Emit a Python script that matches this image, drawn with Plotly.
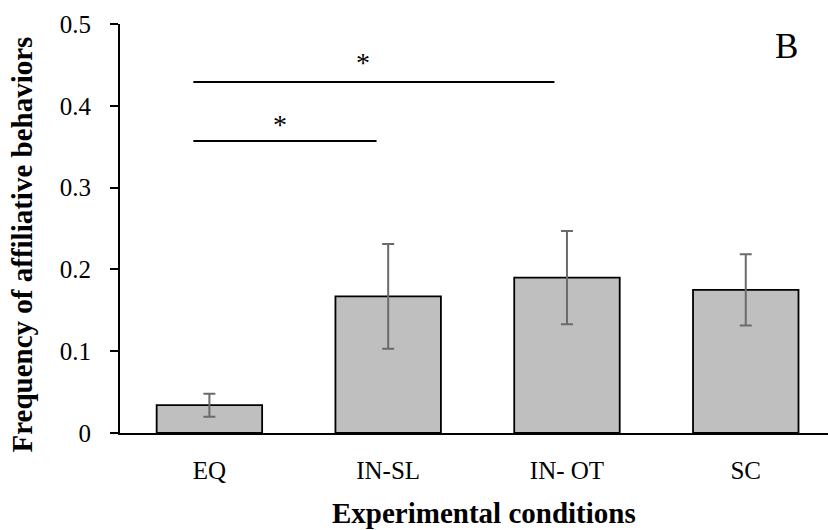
import plotly.graph_objects as go

categories = ["EQ", "IN-SL", "IN- OT", "SC"]
means = [0.034, 0.167, 0.190, 0.175]
errors = [0.014, 0.064, 0.057, 0.0435]

# significance brackets (category-index units / data units)
sig_x0 = [-0.09, -0.09]
sig_x1 = [0.935, 1.93]
sig_y = [0.357, 0.429]
sig_star_x = [0.394, 0.858]
sig_star_y = [0.377, 0.453]
sig_labels = ["*", "*"]

panel_label = "B"
y_title = "Frequency of affiliative behaviors"
x_title = "Experimental conditions"

FONT = "Liberation Serif"

fig = go.Figure()
fig.add_trace(go.Bar(
    x=list(range(len(categories))), y=means, width=0.59,
    marker=dict(color="#BFBFBF", line=dict(color="black", width=1.8)),
    error_y=dict(type="data", array=errors, visible=True,
                 color="#6b6b6b", thickness=2, width=6),
    showlegend=False,
))

for x0, x1, yv in zip(sig_x0, sig_x1, sig_y):
    fig.add_trace(go.Scatter(x=[x0, x1], y=[yv, yv], mode="lines",
                             line=dict(color="black", width=2),
                             showlegend=False, hoverinfo="skip"))

for xs, ys, t in zip(sig_star_x, sig_star_y, sig_labels):
    fig.add_annotation(x=xs, y=ys, text=t, showarrow=False,
                       xref="x", yref="y", yanchor="middle",
                       font=dict(family=FONT, size=28, color="black"))

fig.add_annotation(x=1, y=1, xref="paper", yref="paper", text=panel_label,
                   showarrow=False, xanchor="right", yanchor="top",
                   xshift=-28, yshift=-1,
                   font=dict(family=FONT, size=35, color="black"))

fig.add_annotation(x=0, y=0.5, xref="paper", yref="paper", text="<b>" + y_title + "</b>",
                   showarrow=False, textangle=-90, xanchor="center", yanchor="middle",
                   xshift=-99, yshift=-16,
                   font=dict(family=FONT, size=29, color="black"))

fig.add_annotation(x=0.5, y=0, xref="paper", yref="paper", text="<b>" + x_title + "</b>",
                   showarrow=False, xanchor="center", yanchor="middle",
                   xshift=10, yshift=-80,
                   font=dict(family=FONT, size=29, color="black"))

fig.update_layout(
    width=828, height=530,
    margin=dict(l=120, r=0, t=24, b=97),
    paper_bgcolor="white", plot_bgcolor="white",
    font=dict(family=FONT, size=25, color="black"),
    xaxis=dict(range=[-0.5, 3.46], tickmode="array",
               tickvals=list(range(len(categories))), ticktext=categories,
               showline=True, linecolor="black", linewidth=1.5,
               ticks="", showgrid=False, zeroline=False,
               ticklabelstandoff=14),
    yaxis=dict(range=[0, 0.5], dtick=0.1, showline=True, linecolor="black",
               linewidth=2, ticks="outside", ticklen=8, tickwidth=2,
               tickcolor="black", showgrid=False, zeroline=False,
               ticklabelstandoff=14),
    bargap=0.4,
)

fig.write_html("out.html")
